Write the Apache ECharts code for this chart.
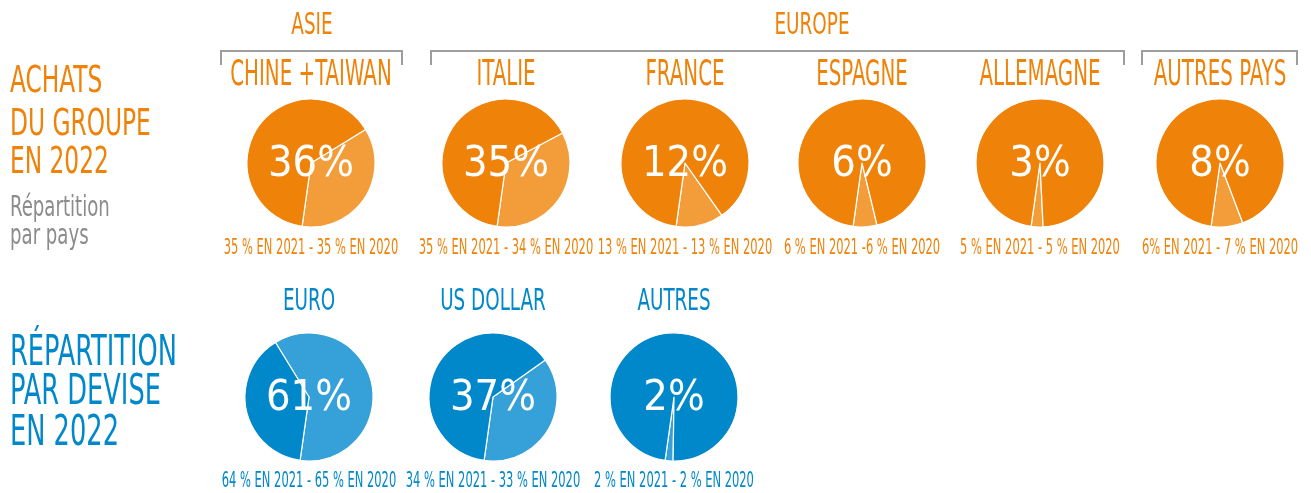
<!DOCTYPE html>
<html>
<head>
<meta charset="utf-8">
<script src="https://cdn.jsdelivr.net/npm/echarts@6/dist/echarts.min.js"></script>
<style>
  html, body { margin: 0; padding: 0; background: #ffffff; }
  #chart { width: 1311px; height: 493px; }
</style>
</head>
<body>
<div id="chart"></div>
<script>
// --- data ---
const countries = ['CHINE +TAIWAN', 'ITALIE', 'FRANCE', 'ESPAGNE', 'ALLEMAGNE', 'AUTRES PAYS']
const countryShare2022 = [36, 35, 12, 6, 3, 8]
const countryHistory = [
  '35 % EN 2021 - 35 % EN 2020',
  '35 % EN 2021 - 34 % EN 2020',
  '13 % EN 2021 - 13 % EN 2020',
  '6 % EN 2021 -6 % EN 2020',
  '5 % EN 2021 - 5 % EN 2020',
  '6% EN 2021 - 7 % EN 2020',
]
const currencies = ['EURO', 'US DOLLAR', 'AUTRES']
const currencyShare2022 = [61, 37, 2]
const currencyHistory = [
  '64 % EN 2021 - 65 % EN 2020',
  '34 % EN 2021 - 33 % EN 2020',
  '2 % EN 2021 - 2 % EN 2020',
]

// --- layout ---
const countryX = [311, 506, 685, 862, 1040, 1220]
const currencyX = [309, 493, 674]
const row1Y = 163
const row2Y = 397
const radius = 64

const ORANGE = '#ef8209'
const ORANGE_LIGHT = '#f29d3a'
const BLUE = '#0088ca'
const BLUE_LIGHT = '#36a0d8'
const GREY = '#8c8c8c'
const FONT = '"DejaVu Sans Condensed", "Liberation Sans Narrow", sans-serif'

const chart = echarts.init(document.getElementById('chart'))

function pie(value, cx, cy, dark, light) {
  return {
    type: 'pie',
    center: [cx, cy],
    radius: radius,
    clockwise: false,
    startAngle: -98,
    silent: true,
    animation: false,
    labelLine: { show: false },
    itemStyle: { borderColor: '#ffffff', borderWidth: 1.2 },
    label: {
      show: true,
      position: 'center',
      formatter: '{c}%',
      color: '#ffffff',
      fontFamily: FONT,
      fontSize: 43,
      offset: [0, 2],
    },
    data: [
      { value: value, itemStyle: { color: light } },
      { value: 100 - value, itemStyle: { color: dark }, label: { show: false } },
    ],
  }
}

// condensed "hand" text
function hand(text, x, y, size, color, sx) {
  return {
    type: 'text',
    x: x,
    y: y,
    scaleX: sx,
    silent: true,
    style: {
      text: text,
      fill: color,
      fontFamily: FONT,
      fontSize: size,
      textAlign: 'center',
      textVerticalAlign: 'middle',
    },
  }
}

function leftText(text, x, y, size, color, sx) {
  const t = hand(text, x, y, size, color, sx)
  t.style.textAlign = 'left'
  return t
}

function bracket(x1, x2, y, drop) {
  return {
    type: 'polyline',
    silent: true,
    shape: { points: [[x1, y + drop], [x1, y], [x2, y], [x2, y + drop]] },
    style: { stroke: '#9d9d9d', lineWidth: 2, fill: null },
  }
}

const series = []
countryShare2022.forEach((v, i) => series.push(pie(v, countryX[i], row1Y, ORANGE, ORANGE_LIGHT)))
currencyShare2022.forEach((v, i) => series.push(pie(v, currencyX[i], row2Y, BLUE, BLUE_LIGHT)))

const graphic = [
  bracket(221, 402, 51, 14),
  bracket(431, 1124, 51, 14),
  bracket(1142, 1297, 51, 14),
  hand('ASIE', 312, 26, 31, ORANGE, 0.66),
  hand('EUROPE', 812, 26, 31, ORANGE, 0.66),
  leftText('ACHATS', 10, 82, 37, ORANGE, 0.7),
  leftText('DU GROUPE', 10, 125, 37, ORANGE, 0.7),
  leftText('EN 2022', 10, 163, 37, ORANGE, 0.7),
  leftText('Répartition', 10, 209, 28, GREY, 0.72),
  leftText('par pays', 10, 237, 28, GREY, 0.72),
  leftText('RÉPARTITION', 10, 354, 42, BLUE, 0.68),
  leftText('PAR DEVISE', 10, 393, 42, BLUE, 0.68),
  leftText('EN 2022', 10, 434, 42, BLUE, 0.68),
]
countries.forEach((name, i) => {
  graphic.push(hand(name, countryX[i], 76, 35, ORANGE, 0.63))
  graphic.push(hand(countryHistory[i], countryX[i], 248, 22, ORANGE, 0.58))
})
currencies.forEach((name, i) => {
  graphic.push(hand(name, currencyX[i], 302, 30, BLUE, 0.68))
  graphic.push(hand(currencyHistory[i], currencyX[i], 481, 22, BLUE, 0.58))
})

chart.setOption({
  backgroundColor: '#ffffff',
  animation: false,
  series: series,
  graphic: graphic,
})

window.addEventListener('resize', () => chart.resize())
</script>
</body>
</html>
